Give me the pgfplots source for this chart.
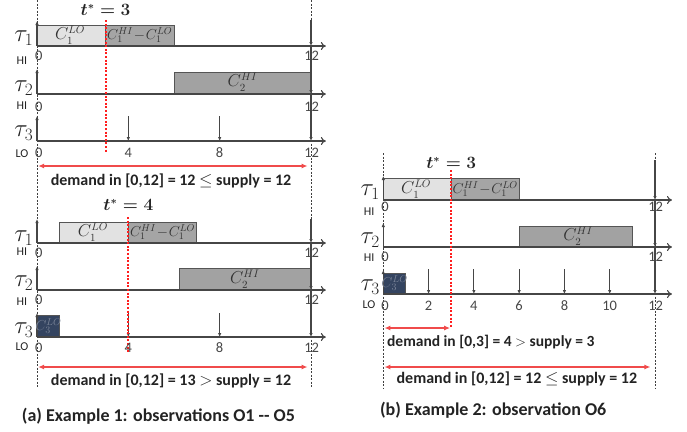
\documentclass[border=0pt]{standalone}
\usepackage{pgfplots}
\pgfplotsset{compat=1.18}
\usepackage{fontspec}
\setmainfont{Carlito}
\usetikzlibrary{arrows.meta}
\definecolor{lg}{RGB}{226,226,226}
\definecolor{mg}{RGB}{165,165,165}
\definecolor{dg}{RGB}{162,162,162}
\definecolor{nv}{RGB}{52,68,96}
\definecolor{bd}{RGB}{85,85,85}
\definecolor{axc}{RGB}{70,70,70}
\definecolor{rd}{RGB}{255,30,30}
\definecolor{ra}{RGB}{240,75,75}
\definecolor{tx}{RGB}{35,35,35}
\definecolor{nvt}{RGB}{120,130,150}
\tikzset{
 ax/.style={axc, line width=1.1pt},
 up/.style={ax, -{Latex[length=4pt,width=3.5pt]}},
 tl/.style={ax, -{To[length=5pt,width=8pt]}},
 dl/.style={black!75, line width=0.9pt, dash pattern=on 2pt off 1.5pt},
 rdot/.style={rd, line width=2pt, dash pattern=on 2pt off 1.6pt},
 rarr/.style={ra, line width=1.2pt, {Latex[length=6pt,width=5pt]}-{Latex[length=6pt,width=5pt]}},
 num/.style={text=axc, font=\fontsize{14.5}{14.5}\selectfont, inner sep=0pt},
 hl/.style={text=tx, font=\fontsize{12}{12}\selectfont, inner sep=0pt},
 tau/.style={text=tx, font=\fontsize{23}{23}\selectfont, inner sep=0pt, anchor=east},
 cl/.style={text=black!80, font=\fontsize{16}{16}\selectfont, inner sep=0pt},
 cd/.style={text=black!80, font=\fontsize{14}{14}\selectfont, inner sep=0pt},
 ts/.style={text=tx, font=\fontsize{16}{16}\selectfont\boldmath, inner sep=0pt},
 dm/.style={text=tx, font=\fontsize{16}{16}\selectfont\bfseries, inner sep=0pt},
 captxt/.style={text=tx, font=\fontsize{18}{18}\selectfont\bfseries, inner sep=0pt},
}
\newcommand{\boxx}[5]{\addplot[fill=#5, draw=bd, line width=0.9pt] coordinates {(#1,#3) (#1,#4) (#2,#4) (#2,#3) (#1,#3)};}
\begin{document}
\begin{tikzpicture}
% ---------------- left: Example 1 ----------------
\begin{axis}[anchor=north west, at={(0pt,0pt)}, x=22.833pt, y=1pt, y dir=reverse,
  xmin=-1.6205, xmax=13.2, ymin=0, ymax=431, hide axis, clip=false, no markers]
\addplot[dl] coordinates {(0,0) (0,388)};
\addplot[dl] coordinates {(12,0) (12,388)};
% ===== panel a, top (t*=3) =====
\boxx{0}{3}{46}{25}{lg}
\boxx{3}{6}{46}{25}{mg}
\boxx{6}{12}{94}{72}{dg}
\addplot[up] coordinates {(0,46) (0,21)};
\addplot[up] coordinates {(0,94) (0,69)};
\addplot[up] coordinates {(0,141) (0,116)};
\addplot[up] coordinates {(12,20) (12,46)};
\addplot[up] coordinates {(12,46) (12,94)};
\addplot[up] coordinates {(12,94) (12,141)};
\addplot[up] coordinates {(4,116) (4,141)};
\addplot[up] coordinates {(8,116) (8,141)};
\addplot[tl] coordinates {(0,46) (12.65,46)};
\addplot[tl] coordinates {(0,94) (12.65,94)};
\addplot[tl] coordinates {(0,141) (12.65,141)};
\addplot[rdot] coordinates {(3,20) (3,153)};
\addplot[rarr] coordinates {(0.05,166) (11.85,166)};
\node[cl] at (axis cs:1.45,35) {$C_1^{LO}$};
\node[cd] at (axis cs:4.5,35) {$C_1^{HI}\!-\!C_1^{LO}$};
\node[cl] at (axis cs:9,82) {$C_2^{HI}$};
\node[ts] at (axis cs:3,10) {$t^{*}=3$};
\node[tau] at (axis cs:-0.15,38) {$\tau_1$};
\node[tau] at (axis cs:-0.15,88) {$\tau_2$};
\node[tau] at (axis cs:-0.15,133) {$\tau_3$};
\node[hl] at (axis cs:-0.66,61) {HI};
\node[hl] at (axis cs:-0.66,106) {HI};
\node[hl] at (axis cs:-0.66,154) {LO};
\node[num] at (axis cs:0.08,56) {0};
\node[num] at (axis cs:0.08,107) {0};
\node[num] at (axis cs:0.08,153) {0};
\node[num] at (axis cs:12.03,56) {12};
\node[num] at (axis cs:12.03,107) {12};
\node[num] at (axis cs:12.03,153) {12};
\node[num] at (axis cs:4,153) {4};
\node[num] at (axis cs:8,153) {8};
\node[dm] at (axis cs:5.87,181) {demand in [0,12] = 12 $\leq$ supply = 12};
% ===== panel a, bottom (t*=4) =====
\boxx{1}{4}{243}{222}{lg}
\boxx{4}{7}{243}{222}{mg}
\boxx{6.25}{12}{290}{268}{dg}
\boxx{0}{1}{337}{315}{nv}
\addplot[up] coordinates {(0,243) (0,219)};
\addplot[up] coordinates {(0,290) (0,266)};
\addplot[up] coordinates {(0,337) (0,313)};
\addplot[up] coordinates {(12,219) (12,243)};
\addplot[up] coordinates {(12,243) (12,290)};
\addplot[up] coordinates {(12,290) (12,337)};
\addplot[up] coordinates {(4,313) (4,337)};
\addplot[up] coordinates {(8,313) (8,337)};
\addplot[tl] coordinates {(0,243) (12.65,243)};
\addplot[tl] coordinates {(0,290) (12.65,290)};
\addplot[tl] coordinates {(0,337) (12.65,337)};
\addplot[rdot] coordinates {(4,217) (4,353)};
\addplot[rarr] coordinates {(0.05,367) (11.85,367)};
\node[cl] at (axis cs:2.45,232) {$C_1^{LO}$};
\node[cd] at (axis cs:5.5,232) {$C_1^{HI}\!-\!C_1^{LO}$};
\node[cl] at (axis cs:9.1,279) {$C_2^{HI}$};
\node[cd, text=nvt] at (axis cs:0.5,326) {$C_3^{LO}$};
\node[ts] at (axis cs:4,205) {$t^{*}=4$};
\node[tau] at (axis cs:-0.15,238) {$\tau_1$};
\node[tau] at (axis cs:-0.15,283) {$\tau_2$};
\node[tau] at (axis cs:-0.15,330) {$\tau_3$};
\node[hl] at (axis cs:-0.66,252) {HI};
\node[hl] at (axis cs:-0.66,302) {HI};
\node[hl] at (axis cs:-0.66,347) {LO};
\node[num] at (axis cs:0.08,253) {0};
\node[num] at (axis cs:0.08,300) {0};
\node[num] at (axis cs:0.08,348) {0};
\node[num] at (axis cs:12.03,253) {12};
\node[num] at (axis cs:12.03,300) {12};
\node[num] at (axis cs:12.03,348) {12};
\node[num] at (axis cs:4,348) {4};
\node[num] at (axis cs:8,348) {8};
\node[dm] at (axis cs:5.87,381) {demand in [0,12] = 13 $>$ supply = 12};
\node[captxt] at (axis cs:5.32,416) {(a) Example 1: observations O1 -{}- O5};
\end{axis}
% ---------------- right: Example 2 ----------------
\begin{axis}[anchor=north west, at={(349.34pt,0pt)}, x=22.64pt, y=1pt, y dir=reverse,
  xmin=-1.5, xmax=13.9, ymin=0, ymax=431, hide axis, clip=false, no markers]
\addplot[dl] coordinates {(0,153) (0,388)};
\addplot[dl] coordinates {(12,153) (12,388)};
\boxx{0}{3}{200}{178}{lg}
\boxx{3}{6}{200}{178}{mg}
\boxx{6}{11}{247}{226}{dg}
\boxx{0}{1}{294}{273}{nv}
\addplot[up] coordinates {(0,200) (0,176)};
\addplot[up] coordinates {(0,247) (0,223)};
\addplot[up] coordinates {(0,294) (0,270)};
\addplot[up] coordinates {(12,160) (12,200)};
\addplot[up] coordinates {(12,200) (12,247)};
\addplot[up] coordinates {(12,247) (12,294)};
\addplot[up] coordinates {(2,269) (2,294)};
\addplot[up] coordinates {(4,269) (4,294)};
\addplot[up] coordinates {(6,269) (6,294)};
\addplot[up] coordinates {(8,269) (8,294)};
\addplot[up] coordinates {(10,269) (10,294)};
\addplot[tl] coordinates {(0,200) (12.75,200)};
\addplot[tl] coordinates {(0,247) (12.75,247)};
\addplot[tl] coordinates {(0,294) (12.75,294)};
\addplot[rdot] coordinates {(3,170) (3,328)};
\addplot[rarr] coordinates {(0.05,328) (2.95,328)};
\addplot[rarr] coordinates {(0.05,367) (11.8,367)};
\node[cl] at (axis cs:1.45,189) {$C_1^{LO}$};
\node[cd] at (axis cs:4.5,189) {$C_1^{HI}\!-\!C_1^{LO}$};
\node[cl] at (axis cs:8.6,236) {$C_2^{HI}$};
\node[cd, text=nvt] at (axis cs:0.5,283) {$C_3^{LO}$};
\node[ts] at (axis cs:3,163) {$t^{*}=3$};
\node[tau] at (axis cs:-0.15,192) {$\tau_1$};
\node[tau] at (axis cs:-0.15,240) {$\tau_2$};
\node[tau] at (axis cs:-0.15,287) {$\tau_3$};
\node[hl] at (axis cs:-0.63,212) {HI};
\node[hl] at (axis cs:-0.63,258) {HI};
\node[hl] at (axis cs:-0.63,305) {LO};
\node[num] at (axis cs:0.08,207) {0};
\node[num] at (axis cs:0.08,257) {0};
\node[num] at (axis cs:0.08,306) {0};
\node[num] at (axis cs:12.03,207) {12};
\node[num] at (axis cs:12.03,257) {12};
\node[num] at (axis cs:12.03,306) {12};
\node[num] at (axis cs:2,306) {2};
\node[num] at (axis cs:4,306) {4};
\node[num] at (axis cs:6,306) {6};
\node[num] at (axis cs:8,306) {8};
\node[num] at (axis cs:10,306) {10};
\node[dm, anchor=west, font=\fontsize{15.5}{15.5}\selectfont\bfseries] at (axis cs:0.16,342) {demand in [0,3] = 4 $>$ supply = 3};
\node[dm] at (axis cs:5.9,379) {demand in [0,12] = 12 $\leq$ supply = 12};
\node[captxt, anchor=west] at (axis cs:-0.15,410) {(b) Example 2: observation O6};
\end{axis}
\pgfresetboundingbox
\path[use as bounding box] (0pt,0pt) rectangle (687pt,-431pt);
\end{tikzpicture}
\end{document}
